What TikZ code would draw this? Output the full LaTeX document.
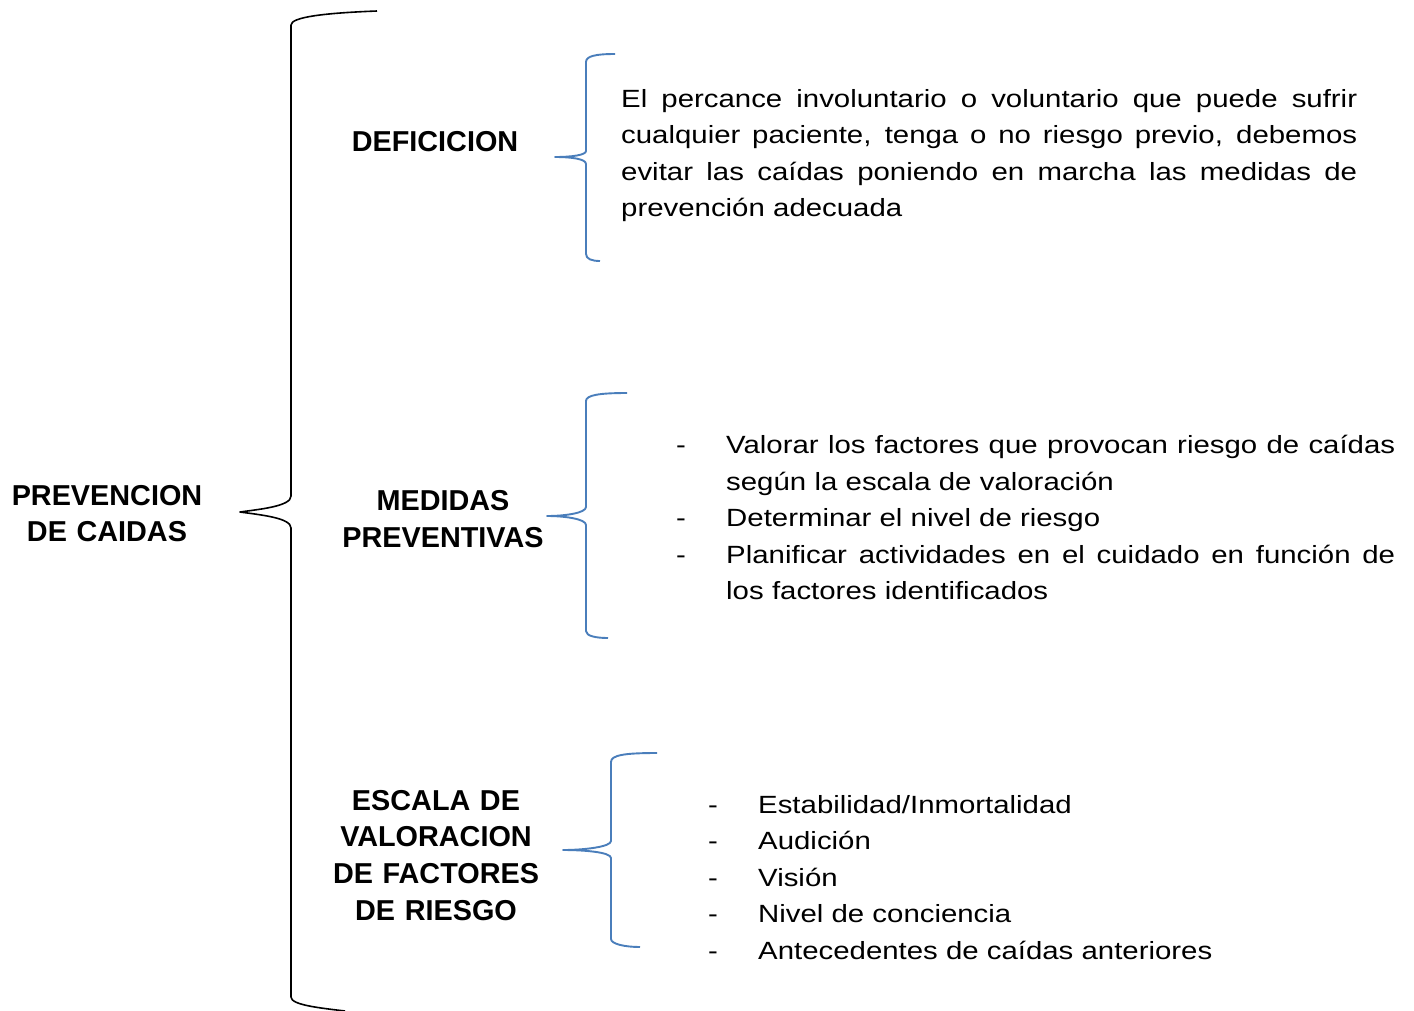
\documentclass[tikz,border=0pt]{standalone}
\usepackage{fontspec}
\setmainfont{Liberation Sans}
\newfontfamily\regfont[FakeStretch=1.18]{Liberation Sans}
\definecolor{braceblue}{RGB}{74,126,187}
\newcommand\jline[2]{\leavevmode\hbox to #1{\spaceskip=0.25em plus 1fil\relax #2}}
\begin{document}
\begin{tikzpicture}[x=1pt,y=-1pt,
  title/.style={font=\fontsize{28.8}{36.7}\selectfont\bfseries, inner sep=0pt, text width=260pt, align=center, anchor=base},
  body/.style={font=\regfont\fontsize{24.9}{36.6}\selectfont, inner sep=0pt, anchor=base west},
  bigbrace/.style={line width=1.6pt, black, line join=round},
  bluebrace/.style={line width=1.9pt, braceblue, line join=round}]
\useasboundingbox (0,0) rectangle (1414,1010);

% titles
\node[title] (root) at (107,505) {PREVENCION\\DE CAIDAS};
\node[title] (def) at (435,151.7) {DEFICICION};
\node[title] (med) at (443,510.5) {MEDIDAS\\PREVENTIVAS};
\node[title] (esc) at (436,810) {ESCALA DE\\VALORACION\\DE FACTORES\\DE RIESGO};

% definition text
\node[body, text width=736pt, align=left] (deftext) at (621,107)
  {\jline{736pt}{El percance involuntario o voluntario que puede sufrir}\\
   \jline{736pt}{cualquier paciente, tenga o no riesgo previo, debemos}\\
   \jline{736pt}{evitar las caídas poniendo en marcha las medidas de}\\
   prevención adecuada};

% medidas list
\node[body] (m1d) at (676,453.5) {-};
\node[body] (m2d) at (676,526.7) {-};
\node[body] (m3d) at (676,563.3) {-};
\node[body, text width=669pt, align=left] (m1) at (726,453.5)
  {\jline{669pt}{Valorar los factores que provocan riesgo de caídas}\\según la escala de valoración};
\node[body] (m2) at (726,526.7) {Determinar el nivel de riesgo};
\node[body, text width=669pt, align=left] (m3) at (726,563.3)
  {\jline{669pt}{Planificar actividades en el cuidado en función de}\\los factores identificados};

% escala list
\node[body] (e1d) at (708,813) {-};
\node[body] (e2d) at (708,849.6) {-};
\node[body] (e3d) at (708,886.2) {-};
\node[body] (e4d) at (708,922.8) {-};
\node[body] (e5d) at (708,959.4) {-};
\node[body] (e1) at (758,813) {Estabilidad/Inmortalidad};
\node[body] (e2) at (758,849.6) {Audición};
\node[body] (e3) at (758,886.2) {Visión};
\node[body] (e4) at (758,922.8) {Nivel de conciencia};
\node[body] (e5) at (758,959.4) {Antecedentes de caídas anteriores};

% braces
\draw[bigbrace] (377,11) .. controls (325,13) and (291,17) .. (291,25) -- (291,496)
  .. controls (291,506) and (262,509) .. (240,512)
  .. controls (262,515) and (291,518) .. (291,528) -- (291,997)
  .. controls (291,1005) and (320,1008) .. (345,1011);
\draw[bluebrace] (615,54) .. controls (596,54) and (586,56) .. (586,62) -- (586,151)
  .. controls (586,155) and (572,157) .. (555,157)
  .. controls (572,157) and (586,159) .. (586,164) -- (586,254)
  .. controls (586,259) and (592,261) .. (600,261);
\draw[bluebrace] (627,393) .. controls (600,393) and (586,395) .. (586,401) -- (586,507)
  .. controls (586,513) and (565,516) .. (547,516)
  .. controls (565,516) and (586,519) .. (586,525) -- (586,631)
  .. controls (586,636) and (596,638) .. (608,638);
\draw[bluebrace] (657,753) .. controls (625,753) and (611,755) .. (611,762) -- (611,841)
  .. controls (611,847) and (583,850) .. (563,850)
  .. controls (583,850) and (611,852) .. (611,858) -- (611,939)
  .. controls (611,944) and (625,947) .. (640,947);
\end{tikzpicture}
\end{document}
